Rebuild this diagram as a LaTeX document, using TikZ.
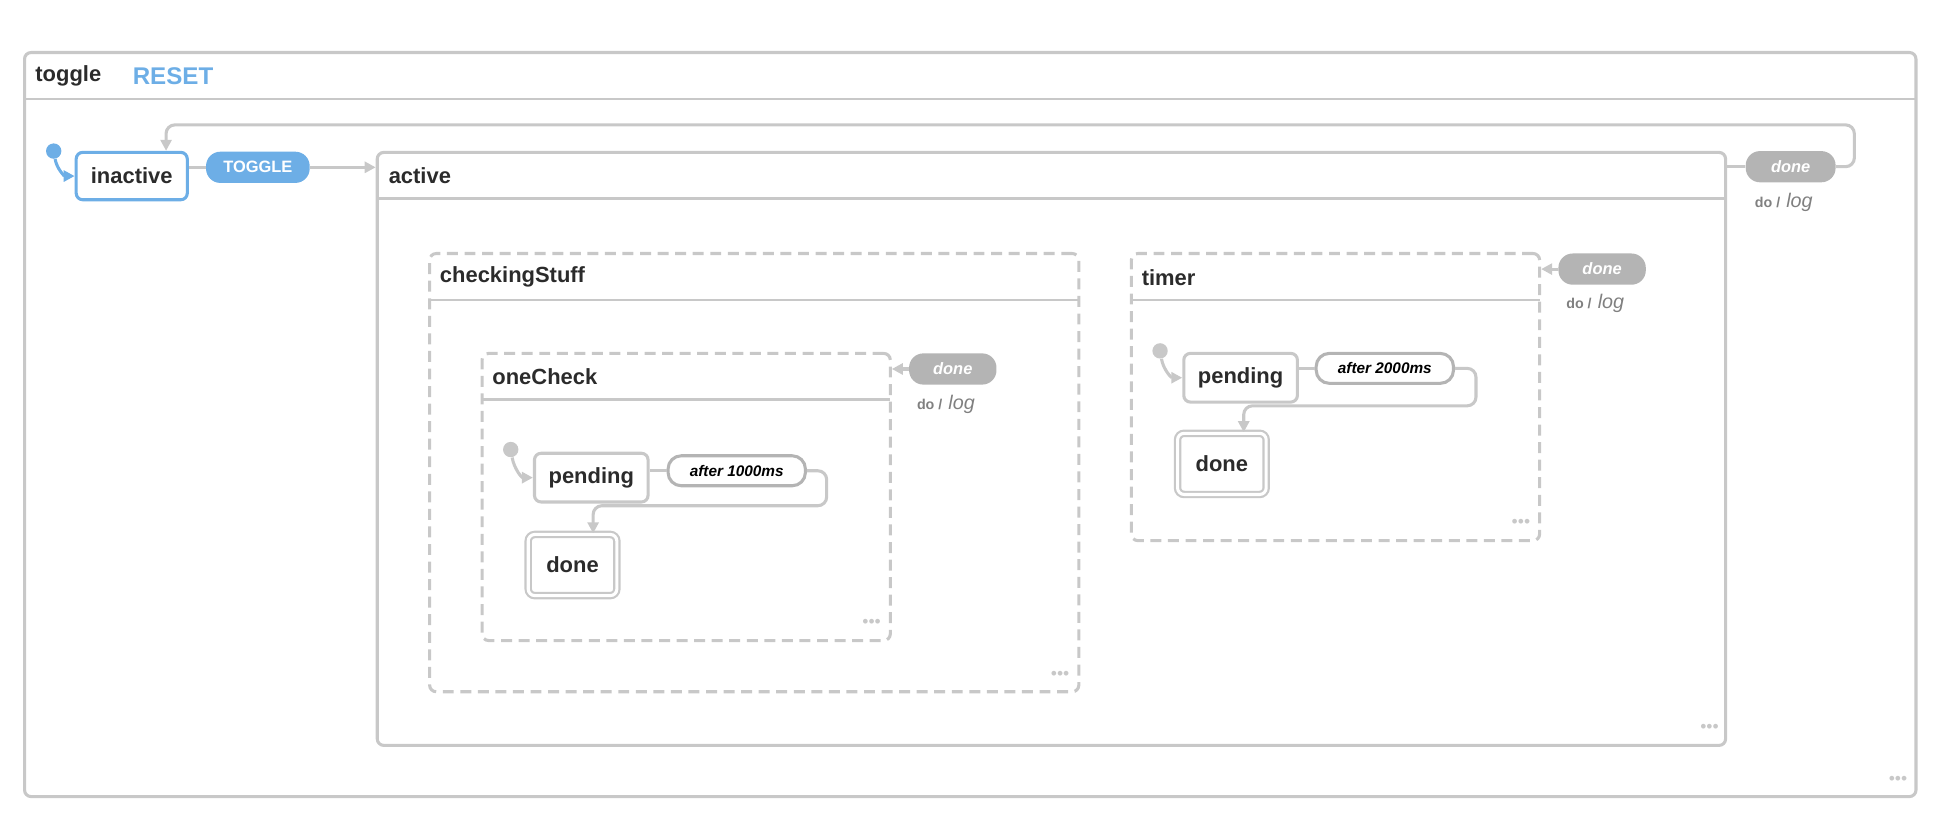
\documentclass[tikz,border=0pt]{standalone}
\usepackage{fontspec}
\setmainfont{Liberation Sans}
\usepackage{xcolor}
\usetikzlibrary{arrows.meta}
\definecolor{boxgray}{HTML}{C8C8C8}
\definecolor{pillgray}{HTML}{B4B4B4}
\definecolor{xblue}{HTML}{6DAEE6}
\definecolor{txtdark}{HTML}{2B2B2B}
\tikzset{
  box/.style={draw=boxgray, line width=1.4pt, rounded corners=3pt, inner sep=0pt},
  parbox/.style={box, dash pattern=on 5pt off 3pt},
  state/.style={box, fill=white, text=txtdark, font=\bfseries\fontsize{10}{12}\selectfont},
  final/.style={state, double=white, double distance=1.4pt, line width=1pt},
  title/.style={anchor=west, text=txtdark, font=\bfseries\fontsize{10}{12}\selectfont, inner sep=0pt},
  pill/.style={rounded corners=6.5pt, fill=pillgray, text=white, inner sep=0pt, font=\bfseries\itshape\fontsize{7.5}{9}\selectfont},
  evpill/.style={draw=pillgray, line width=1.4pt, rounded corners=6pt, fill=white, text=black, inner sep=0pt, font=\bfseries\itshape\fontsize{7}{9}\selectfont},
  conn/.style={draw=boxgray, line width=1.4pt, -{Triangle[length=5pt,width=5pt]}, rounded corners=4pt},
  initdot/.style={circle, fill=boxgray, inner sep=0pt, minimum size=7pt},
  dots/.style={text=boxgray, font=\fontsize{8}{8}\selectfont, inner sep=0pt},
  doact/.style={text=gray, inner sep=0pt, anchor=west}
}
\newcommand{\doLog}{{\bfseries\fontsize{6.5}{8}\selectfont do /}\ {\itshape\fontsize{9}{10}\selectfont log}}
\begin{document}
\begin{tikzpicture}[x=0.02cm, y=-0.02cm]
\useasboundingbox (0,0) rectangle (1560,668);
% outer machine
\node[box, minimum width=30.3cm, minimum height=11.92cm] at (777,340) (toggle) {};
\draw[boxgray, line width=1pt] (19,79) -- (1535,79);
\node[title] at (28,61) (toggletitle) {toggle};
\node[title, text=xblue, font=\bfseries\fontsize{11}{12}\selectfont] at (106,61) (reset) {RESET};
\node[dots] at (1520,625) (toggledots) {•••};

% inactive
\node[state, draw=xblue, minimum width=1.78cm, minimum height=0.76cm] at (105.5,141) (inactive) {inactive};
\node[initdot, fill=xblue] at (43,121) (init0) {};
\draw[conn, draw=xblue, rounded corners=0pt] (init0) to[out=-80, in=180] (inactive.west);
\node[pill, fill=xblue, minimum width=1.66cm, minimum height=0.5cm, font=\bfseries\fontsize{7.5}{9}\selectfont] at (206.5,134) (togglepill) {TOGGLE};

% active
\node[box, minimum width=21.6cm, minimum height=9.5cm] at (842,359.5) (active) {};
\draw[boxgray, line width=1pt] (302,159) -- (1382,159);
\node[title] at (311,141) (activetitle) {active};
\node[dots] at (1369,583) (activedots) {•••};
\draw[boxgray, line width=1.4pt] (inactive.east |- togglepill) -- (togglepill);
\draw[conn] (togglepill) -- (active.west |- togglepill);
\node[pill, minimum width=1.44cm, minimum height=0.5cm] at (1434,133.5) (donepill0) {done};
\node[doact] at (1405,162) (dolog0) {\doLog};
\draw[boxgray, line width=1.4pt] (active.east |- donepill0) -- (donepill0);
\draw[conn] (donepill0.east) -- (1485,133.5) -- (1485,100) -- (133,100) -- (inactive.north -| 133,0);

% checkingStuff
\node[parbox, minimum width=10.4cm, minimum height=7.02cm] at (604,378.5) (checking) {};
\draw[boxgray, line width=1pt] (344,240) -- (864,240);
\node[title] at (352,222) (checkingtitle) {checkingStuff};
\node[dots] at (849,541) (checkingdots) {•••};

% oneCheck
\node[parbox, minimum width=6.54cm, minimum height=4.6cm] at (549.5,398) (onecheck) {};
\draw[boxgray, line width=1pt] (386,320) -- (713,320);
\node[title] at (394,302) (onechecktitle) {oneCheck};
\node[dots] at (698,499) (onecheckdots) {•••};
\node[pill, minimum width=1.4cm, minimum height=0.5cm] at (763,295.5) (donepill1) {done};
\node[doact] at (734,324) (dolog1) {\doLog};
\draw[conn] (donepill1) -- (onecheck.east |- donepill1);
\node[state, minimum width=1.82cm, minimum height=0.78cm] at (473.5,382.5) (pending1) {pending};
\node[initdot] at (409,360) (init1) {};
\draw[conn, rounded corners=0pt] (init1) to[out=-80, in=180] (pending1.west);
\node[evpill, minimum width=2.2cm, minimum height=0.48cm] at (590,377) (after1) {after 1000ms};
\draw[boxgray, line width=1.4pt] (pending1.east |- after1) -- (after1);
\node[final, minimum width=1.42cm, minimum height=0.98cm] at (458.5,452.5) (done1) {done};
\draw[conn] (after1.east) -- (662,377) -- (662,405) -- (475,405) -- (done1.north -| 475,0);

% timer
\node[parbox, minimum width=6.54cm, minimum height=4.6cm] at (1069.5,318) (timer) {};
\draw[boxgray, line width=1pt] (906,240) -- (1233,240);
\node[title] at (914,222) (timertitle) {timer};
\node[dots] at (1218,419) (timerdots) {•••};
\node[pill, minimum width=1.4cm, minimum height=0.5cm] at (1283,215.5) (donepill2) {done};
\node[doact] at (1254,243) (dolog2) {\doLog};
\draw[conn] (donepill2) -- (timer.east |- donepill2);
\node[state, minimum width=1.82cm, minimum height=0.78cm] at (993.5,302.5) (pending2) {pending};
\node[initdot] at (929,281) (init2) {};
\draw[conn, rounded corners=0pt] (init2) to[out=-80, in=180] (pending2.west);
\node[evpill, minimum width=2.2cm, minimum height=0.48cm] at (1109,295) (after2) {after 2000ms};
\draw[boxgray, line width=1.4pt] (pending2.east |- after2) -- (after2);
\node[final, minimum width=1.42cm, minimum height=0.98cm] at (978.5,371.5) (done2) {done};
\draw[conn] (after2.east) -- (1182,295) -- (1182,325) -- (996,325) -- (done2.north -| 996,0);
\end{tikzpicture}
\end{document}
